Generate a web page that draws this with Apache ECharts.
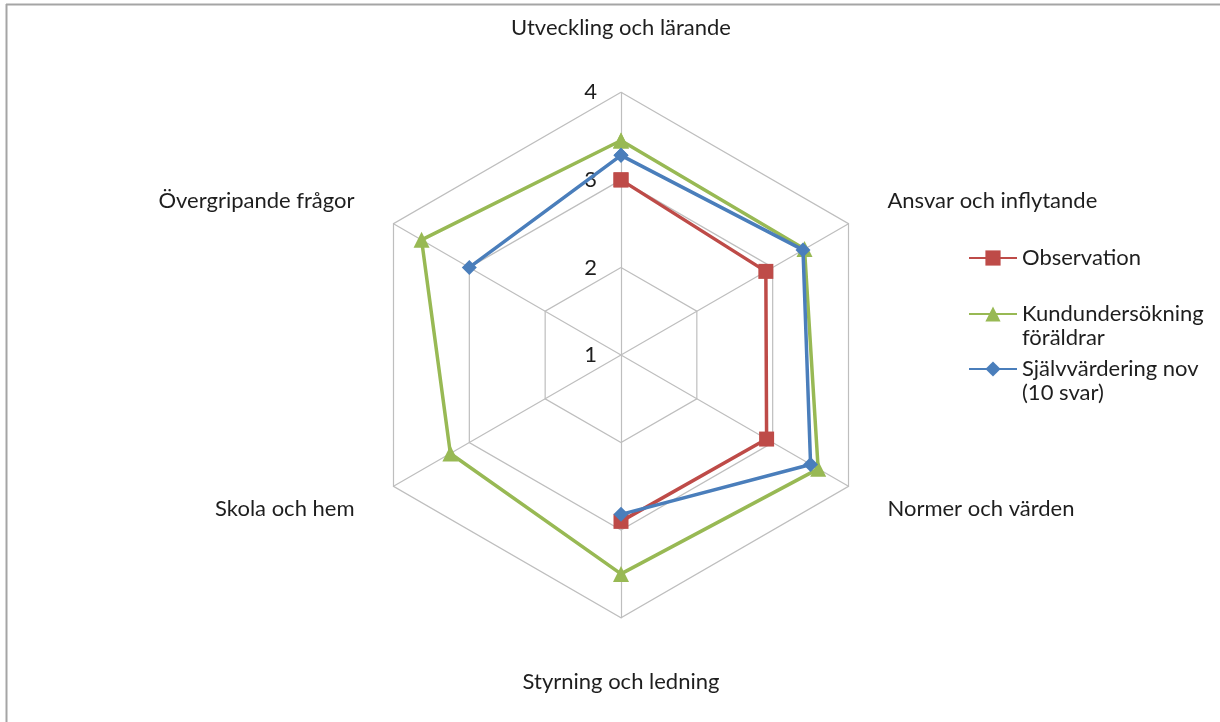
<!DOCTYPE html>
<html><head><meta charset="utf-8">
<script src="https://cdn.jsdelivr.net/npm/echarts@6/dist/echarts.min.js"></script>
<style>html,body{margin:0;padding:0;background:#fff}#c{width:1220px;height:722px}</style>
</head><body><div id="c"></div>
<script>
// ---- data ----
const categories = ['Utveckling och lärande', 'Ansvar och inflytande', 'Normer och värden', 'Styrning och ledning', 'Skola och hem', 'Övergripande frågor'];
const seriesNames = ['Observation', 'Kundundersökning föräldrar', 'Självvärdering nov (10 svar)'];
const legendLabels = ['Observation', 'Kundundersökning\nföräldrar', 'Självvärdering nov\n(10 svar)'];
const observation = [3.00, 2.91, 2.92, 2.90, null, null];
const kundundersokning = [3.45, 3.42, 3.60, 3.50, 3.25, 3.63];
const sjalvvardering = [3.28, 3.40, 3.50, 2.82, null, 3.00];
const axisMin = 1, axisMax = 4, axisStep = 1;

// ---- styling ----
const FONT = 'Lato';
const TEXT = '#1e1e1e';
const GRID = '#BEBEBE';
const colors = ['#BE4B48', '#98B954', '#4A7EBB'];
const symbols = ['rect', 'triangle', 'diamond'];
const symbolSizes = [15, 16, 15];
const CENTER = [621, 355];
const RADIUS = 262.7;
const FS = 22;
const LH = 24;

const chart = echarts.init(document.getElementById('c'), null, {renderer: 'canvas'});

// radar indicators placed counter-clockwise by ECharts: reorder so visual order is clockwise
const n = categories.length;
const radarOrder = [0];
for (let i = n - 1; i >= 1; i--) radarOrder.push(i);
const indicators = radarOrder.map(i => ({
  name: categories[i], min: axisMin, max: axisMax,
  nameGap: (i === 0 || i === n / 2) ? 53 : 45
}));

function toPolar(values) {
  const step = 360 / n;
  const pts = values.map((v, i) => [v == null ? '-' : v, i * step]);
  pts.push([values[0] == null ? '-' : values[0], 360]);
  return pts;
}
const allValues = [observation, kundundersokning, sjalvvardering];

// icon centre y for each legend entry (aligned with the first text line)
const legendIconY = [258, 314, 369];
const legends = seriesNames.map((nm, k) => {
  const multi = legendLabels[k].indexOf('\n') >= 0;
  // a leading empty line keeps the first text line centred on the icon
  const half = multi ? 1.5 * LH : 0.5 * LH;
  return {
    data: [nm],
    orient: 'vertical',
    left: 968,
    top: legendIconY[k] - half,
    padding: 0,
    itemWidth: 48,
    itemHeight: 19,
    selectedMode: false,
    formatter: name => (multi ? '\n' : '') + legendLabels[seriesNames.indexOf(name)],
    textStyle: {fontFamily: FONT, fontSize: FS, color: TEXT, lineHeight: LH}
  };
});

chart.setOption({
  animation: false,
  backgroundColor: '#fff',
  textStyle: {fontFamily: FONT},
  legend: legends,
  radar: {
    center: CENTER,
    radius: RADIUS,
    startAngle: 90,
    shape: 'polygon',
    splitNumber: (axisMax - axisMin) / axisStep,
    indicator: indicators,
    axisName: {color: TEXT, fontFamily: FONT, fontSize: FS},
    axisLine: {lineStyle: {color: GRID, width: 1.2}},
    splitLine: {lineStyle: {color: GRID, width: 1.2}},
    splitArea: {show: false},
    axisTick: {show: false},
    axisLabel: {show: false}
  },
  polar: {center: CENTER, radius: RADIUS},
  angleAxis: {type: 'value', min: 0, max: 360, startAngle: 90, clockwise: true, show: false},
  radiusAxis: {
    type: 'value', min: axisMin, max: axisMax, interval: axisStep,
    axisLine: {show: false}, axisTick: {show: false}, splitLine: {show: false},
    axisLabel: {show: true, color: TEXT, fontFamily: FONT, fontSize: FS, margin: 24}
  },
  series: allValues.map((vals, k) => ({
    type: 'line',
    name: seriesNames[k],
    coordinateSystem: 'polar',
    data: toPolar(vals),
    connectNulls: false,
    symbol: symbols[k],
    symbolSize: symbolSizes[k],
    showAllSymbol: true,
    color: colors[k],
    lineStyle: {color: colors[k], width: 3.5},
    itemStyle: {color: colors[k]},
    z: 3 + k
  })),
  graphic: [
    {type: 'line', shape: {x1: 6, y1: 4.5, x2: 1220, y2: 4.5}, style: {stroke: '#A5A5A5', lineWidth: 2}, silent: true},
    {type: 'line', shape: {x1: 6.5, y1: 4, x2: 6.5, y2: 722}, style: {stroke: '#A5A5A5', lineWidth: 2}, silent: true}
  ]
});
</script></body></html>
